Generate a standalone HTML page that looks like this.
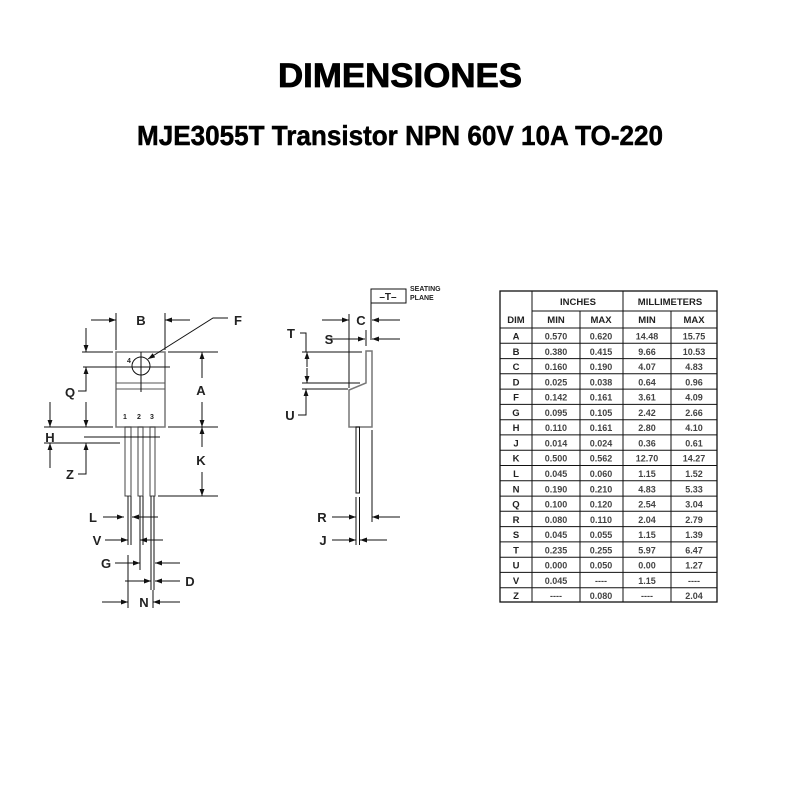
<!DOCTYPE html>
<html><head><meta charset="utf-8"><style>
body{margin:0;background:#fff}
svg{display:block}
text{font-family:"Liberation Sans",Arial,sans-serif}
.t{font-weight:bold;font-size:13px;fill:#222}
.s{font-size:9px;fill:#444;text-anchor:middle;font-weight:bold}
.h{font-size:9.5px;font-weight:bold;fill:#222;text-anchor:middle}
</style></head><body>
<svg width="800" height="800" viewBox="0 0 800 800" xmlns="http://www.w3.org/2000/svg">
<defs><marker id="a" viewBox="0 0 10 10" refX="10" refY="5" markerWidth="7" markerHeight="7" orient="auto-start-reverse"><path d="M0,1.5 L10,5 L0,8.5 z" fill="#111"/></marker></defs>
<text x="400" y="87" text-anchor="middle" font-size="34" font-weight="bold" textLength="244" lengthAdjust="spacingAndGlyphs" stroke="#000" stroke-width="0.8">DIMENSIONES</text>
<text x="400" y="145" text-anchor="middle" font-size="28" font-weight="bold" textLength="526" lengthAdjust="spacingAndGlyphs" stroke="#000" stroke-width="0.5">MJE3055T Transistor NPN 60V 10A TO-220</text>

<g stroke="#111" stroke-width="1" fill="none">
<rect x="116" y="352" width="49" height="75" stroke="#777" stroke-width="1.5"/>
<line x1="116" y1="383" x2="165" y2="383" stroke="#555"/>
<line x1="116" y1="389" x2="165" y2="389" stroke="#555"/>
<circle cx="141" cy="366" r="9"/>
<line x1="141" y1="352" x2="141" y2="392"/>
<rect x="125" y="427" width="6" height="69" stroke="#444"/>
<rect x="138" y="427" width="5" height="69" stroke="#444"/>
<rect x="150" y="427" width="5" height="69" stroke="#444"/>
<line x1="128" y1="496" x2="128" y2="545"/><line x1="131" y1="496" x2="131" y2="545"/>
<line x1="140" y1="496" x2="140" y2="570"/><line x1="143" y1="496" x2="143" y2="545"/>
<line x1="151" y1="496" x2="151" y2="590"/><line x1="154" y1="496" x2="154" y2="590"/>
<line x1="116" y1="313" x2="116" y2="350"/><line x1="165" y1="313" x2="165" y2="350"/>
<line x1="91" y1="320" x2="116" y2="320" marker-end="url(#a)"/>
<line x1="190" y1="320" x2="165" y2="320" marker-end="url(#a)"/>
<polyline points="228,318 213,318 148,359" marker-end="url(#a)"/>
<line x1="168" y1="352" x2="218" y2="352"/><line x1="168" y1="427" x2="218" y2="427"/>
<line x1="158" y1="496" x2="218" y2="496"/>
<line x1="202" y1="378" x2="202" y2="352" marker-end="url(#a)"/>
<line x1="202" y1="402" x2="202" y2="427" marker-end="url(#a)"/>
<line x1="202" y1="447" x2="202" y2="427" marker-end="url(#a)"/>
<line x1="202" y1="472" x2="202" y2="496" marker-end="url(#a)"/>
<line x1="82" y1="352" x2="113" y2="352"/><line x1="83" y1="367" x2="170" y2="367"/>
<line x1="86" y1="328" x2="86" y2="352" marker-end="url(#a)"/>
<polyline points="78,391 86,391 86,367" marker-end="url(#a)"/>
<line x1="86" y1="402" x2="86" y2="427" marker-end="url(#a)"/>
<line x1="44" y1="427" x2="113" y2="427"/><line x1="44" y1="443" x2="120" y2="443"/>
<line x1="84" y1="437" x2="160" y2="437"/>
<line x1="50" y1="402" x2="50" y2="427" marker-end="url(#a)"/>
<line x1="50" y1="468" x2="50" y2="443" marker-end="url(#a)"/>
<polyline points="78,474 86,474 86,443" marker-end="url(#a)"/>
<line x1="103" y1="517" x2="124" y2="517" marker-end="url(#a)"/>
<line x1="158" y1="517" x2="132" y2="517" marker-end="url(#a)"/>
<line x1="105" y1="540" x2="128" y2="540" marker-end="url(#a)"/>
<line x1="163" y1="540" x2="140" y2="540" marker-end="url(#a)"/>
<line x1="115" y1="563" x2="140" y2="563" marker-end="url(#a)"/>
<line x1="180" y1="563" x2="155" y2="563" marker-end="url(#a)"/>
<line x1="125" y1="581" x2="151" y2="581" marker-end="url(#a)"/>
<line x1="180" y1="581" x2="155" y2="581" marker-end="url(#a)"/>
<line x1="128" y1="555" x2="128" y2="608"/><line x1="153" y1="590" x2="153" y2="608"/>
<line x1="102" y1="602" x2="128" y2="602" marker-end="url(#a)"/>
<line x1="180" y1="602" x2="153" y2="602" marker-end="url(#a)"/>

<rect x="371" y="289" width="35" height="14"/>
<line x1="371" y1="303" x2="371" y2="340"/>
<path d="M366,351 L372,351 L372,427 L349,427 L349,390 L366,383 Z" stroke="#777" stroke-width="1.5"/>
<rect x="356" y="427" width="3.5" height="66"/>
<line x1="356" y1="497" x2="356" y2="545"/><line x1="359.5" y1="497" x2="359.5" y2="545"/>
<line x1="372" y1="430" x2="372" y2="522"/>
<line x1="349" y1="314" x2="349" y2="388"/>
<line x1="322" y1="320" x2="349" y2="320" marker-end="url(#a)"/>
<line x1="400" y1="320" x2="372" y2="320" marker-end="url(#a)"/>
<line x1="366" y1="330" x2="366" y2="346"/>
<line x1="330" y1="339" x2="365" y2="339" marker-end="url(#a)"/>
<line x1="400" y1="339" x2="372" y2="339" marker-end="url(#a)"/>
<polyline points="300,333 306,333 306,352"/>
<line x1="302" y1="352" x2="362" y2="352"/><line x1="302" y1="383" x2="360" y2="383"/>
<line x1="302" y1="389" x2="348" y2="389"/>
<line x1="307" y1="367" x2="307" y2="352" marker-end="url(#a)"/>
<line x1="307" y1="368" x2="307" y2="383" marker-end="url(#a)"/>
<polyline points="298,415 306,415 306,389" marker-end="url(#a)"/>
<line x1="332" y1="517" x2="356" y2="517" marker-end="url(#a)"/>
<line x1="400" y1="517" x2="372" y2="517" marker-end="url(#a)"/>
<line x1="332" y1="540" x2="356" y2="540" marker-end="url(#a)"/>
<line x1="387" y1="540" x2="360" y2="540" marker-end="url(#a)"/>
</g>

<g class="t" text-anchor="middle">
<text x="141" y="325">B</text><text x="238" y="325">F</text>
<text x="201" y="395">A</text><text x="201" y="465">K</text>
<text x="70" y="397">Q</text><text x="50" y="442">H</text><text x="70" y="479">Z</text>
<text x="93" y="522">L</text><text x="97" y="545">V</text><text x="106" y="568">G</text>
<text x="190" y="586">D</text><text x="144" y="607">N</text>
<text x="361" y="325">C</text><text x="329" y="344">S</text>
<text x="291" y="338">T</text><text x="290" y="420">U</text>
<text x="322" y="522">R</text><text x="323" y="545">J</text>
<text x="388" y="300" font-size="10">–T–</text>
</g>
<g font-size="7" font-weight="bold" fill="#222">
<text x="127" y="363">4</text><text x="123" y="419">1</text><text x="137" y="419">2</text><text x="150" y="419">3</text>
<text x="410" y="291">SEATING</text><text x="410" y="300">PLANE</text>
</g>

<g stroke="#111" fill="none">
<rect x="500" y="291" width="217" height="311" stroke-width="1.3"/>
<line x1="532" y1="291" x2="532" y2="602"/>
<line x1="623" y1="291" x2="623" y2="602"/>
<line x1="580" y1="311" x2="580" y2="602"/>
<line x1="671" y1="311" x2="671" y2="602"/>
<line x1="532" y1="311" x2="717" y2="311"/>
<line x1="500" y1="328" x2="717" y2="328"/>
<line x1="500" y1="343.3" x2="717" y2="343.3"/><line x1="500" y1="358.6" x2="717" y2="358.6"/>
<line x1="500" y1="373.8" x2="717" y2="373.8"/><line x1="500" y1="389.1" x2="717" y2="389.1"/>
<line x1="500" y1="404.4" x2="717" y2="404.4"/><line x1="500" y1="419.7" x2="717" y2="419.7"/>
<line x1="500" y1="434.9" x2="717" y2="434.9"/><line x1="500" y1="450.2" x2="717" y2="450.2"/>
<line x1="500" y1="465.5" x2="717" y2="465.5"/><line x1="500" y1="480.8" x2="717" y2="480.8"/>
<line x1="500" y1="496.1" x2="717" y2="496.1"/><line x1="500" y1="511.3" x2="717" y2="511.3"/>
<line x1="500" y1="526.6" x2="717" y2="526.6"/><line x1="500" y1="541.9" x2="717" y2="541.9"/>
<line x1="500" y1="557.2" x2="717" y2="557.2"/><line x1="500" y1="572.4" x2="717" y2="572.4"/>
<line x1="500" y1="587.7" x2="717" y2="587.7"/>
</g>
<g class="h">
<text x="578" y="305">INCHES</text><text x="670" y="305">MILLIMETERS</text>
<text x="516" y="323">DIM</text><text x="556" y="323">MIN</text><text x="601" y="323">MAX</text><text x="647" y="323">MIN</text><text x="694" y="323">MAX</text>
<text x="516" y="339.5">A</text><text x="516" y="354.8">B</text><text x="516" y="370">C</text><text x="516" y="385.3">D</text><text x="516" y="400.6">F</text><text x="516" y="415.9">G</text><text x="516" y="431.1">H</text><text x="516" y="446.4">J</text><text x="516" y="461.7">K</text><text x="516" y="477">L</text><text x="516" y="492.3">N</text><text x="516" y="507.5">Q</text><text x="516" y="522.8">R</text><text x="516" y="538.1">S</text><text x="516" y="553.4">T</text><text x="516" y="568.6">U</text><text x="516" y="583.9">V</text><text x="516" y="599.2">Z</text>
</g>
<g class="s">
<text x="556" y="339.5">0.570</text><text x="601" y="339.5">0.620</text><text x="647" y="339.5">14.48</text><text x="694" y="339.5">15.75</text>
<text x="556" y="354.8">0.380</text><text x="601" y="354.8">0.415</text><text x="647" y="354.8">9.66</text><text x="694" y="354.8">10.53</text>
<text x="556" y="370">0.160</text><text x="601" y="370">0.190</text><text x="647" y="370">4.07</text><text x="694" y="370">4.83</text>
<text x="556" y="385.3">0.025</text><text x="601" y="385.3">0.038</text><text x="647" y="385.3">0.64</text><text x="694" y="385.3">0.96</text>
<text x="556" y="400.6">0.142</text><text x="601" y="400.6">0.161</text><text x="647" y="400.6">3.61</text><text x="694" y="400.6">4.09</text>
<text x="556" y="415.9">0.095</text><text x="601" y="415.9">0.105</text><text x="647" y="415.9">2.42</text><text x="694" y="415.9">2.66</text>
<text x="556" y="431.1">0.110</text><text x="601" y="431.1">0.161</text><text x="647" y="431.1">2.80</text><text x="694" y="431.1">4.10</text>
<text x="556" y="446.4">0.014</text><text x="601" y="446.4">0.024</text><text x="647" y="446.4">0.36</text><text x="694" y="446.4">0.61</text>
<text x="556" y="461.7">0.500</text><text x="601" y="461.7">0.562</text><text x="647" y="461.7">12.70</text><text x="694" y="461.7">14.27</text>
<text x="556" y="477">0.045</text><text x="601" y="477">0.060</text><text x="647" y="477">1.15</text><text x="694" y="477">1.52</text>
<text x="556" y="492.3">0.190</text><text x="601" y="492.3">0.210</text><text x="647" y="492.3">4.83</text><text x="694" y="492.3">5.33</text>
<text x="556" y="507.5">0.100</text><text x="601" y="507.5">0.120</text><text x="647" y="507.5">2.54</text><text x="694" y="507.5">3.04</text>
<text x="556" y="522.8">0.080</text><text x="601" y="522.8">0.110</text><text x="647" y="522.8">2.04</text><text x="694" y="522.8">2.79</text>
<text x="556" y="538.1">0.045</text><text x="601" y="538.1">0.055</text><text x="647" y="538.1">1.15</text><text x="694" y="538.1">1.39</text>
<text x="556" y="553.4">0.235</text><text x="601" y="553.4">0.255</text><text x="647" y="553.4">5.97</text><text x="694" y="553.4">6.47</text>
<text x="556" y="568.6">0.000</text><text x="601" y="568.6">0.050</text><text x="647" y="568.6">0.00</text><text x="694" y="568.6">1.27</text>
<text x="556" y="583.9">0.045</text><text x="601" y="583.9">----</text><text x="647" y="583.9">1.15</text><text x="694" y="583.9">----</text>
<text x="556" y="599.2">----</text><text x="601" y="599.2">0.080</text><text x="647" y="599.2">----</text><text x="694" y="599.2">2.04</text>
</g>
</svg>
</body></html>
